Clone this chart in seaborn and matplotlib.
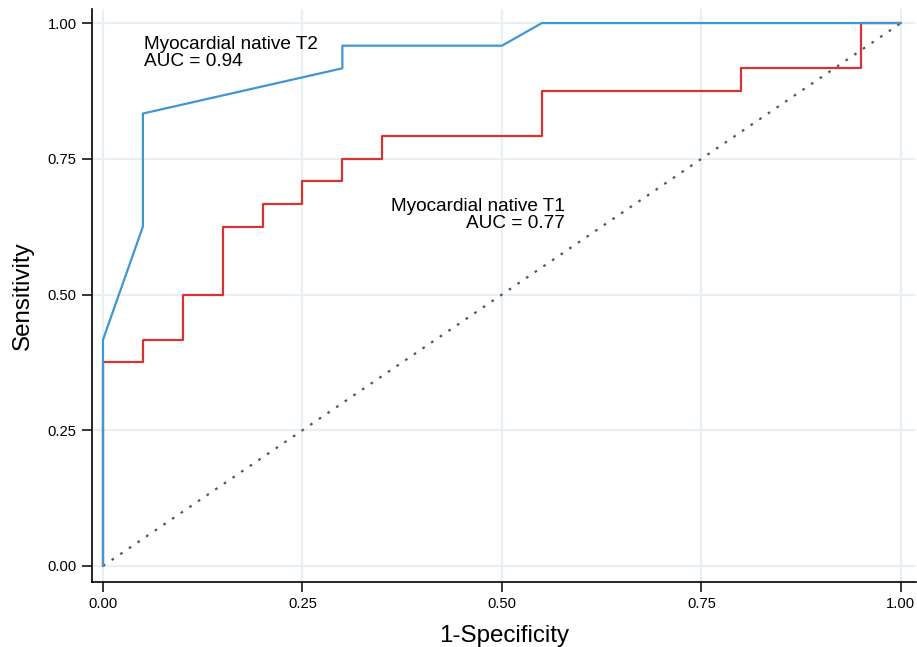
import matplotlib
matplotlib.use("Agg")
import matplotlib.pyplot as plt
import seaborn as sns
import pandas as pd

# ROC coordinates
t2_fpr = [0.0, 0.0, 0.05, 0.05, 0.30, 0.30, 0.50, 0.55, 1.0]
t2_tpr = [0.0, 10/24, 15/24, 20/24, 22/24, 23/24, 23/24, 1.0, 1.0]

t1_fpr = [0.0, 0.0, 0.05, 0.05, 0.10, 0.10, 0.15, 0.15, 0.20, 0.20, 0.25, 0.25,
          0.30, 0.30, 0.35, 0.35, 0.55, 0.55, 0.80, 0.80, 0.95, 0.95, 1.0]
t1_tpr = [0.0, 9/24, 9/24, 10/24, 10/24, 12/24, 12/24, 15/24, 15/24, 16/24, 16/24, 17/24,
          17/24, 18/24, 18/24, 19/24, 19/24, 21/24, 21/24, 22/24, 22/24, 1.0, 1.0]

ref_line = [0.0, 1.0]
ticks = [0.0, 0.25, 0.5, 0.75, 1.0]
tick_labels = ["0.00", "0.25", "0.50", "0.75", "1.00"]

sns.set_style("white")
plt.rcParams['font.family'] = ['Liberation Sans', 'DejaVu Sans']
plt.rcParams['text.color'] = 'black'
plt.rcParams['axes.labelcolor'] = 'black'
plt.rcParams['xtick.color'] = 'black'
plt.rcParams['ytick.color'] = 'black'

fig = plt.figure(figsize=(9.17, 6.47), dpi=100)
ax = fig.add_axes([0.1003, 0.1005, 0.8987, 0.8855])

t2 = pd.DataFrame({'fpr': t2_fpr, 'tpr': t2_tpr})
t1 = pd.DataFrame({'fpr': t1_fpr, 'tpr': t1_tpr})
ref = pd.DataFrame({'fpr': ref_line, 'tpr': ref_line})

sns.lineplot(data=ref, x='fpr', y='tpr', ax=ax, color='#555555', lw=1.6,
             linestyle=(0, (1.2, 3.5)), sort=False, estimator=None, zorder=2)
sns.lineplot(data=t1, x='fpr', y='tpr', ax=ax, color='#d63333', lw=1.6,
             sort=False, estimator=None, zorder=3)
sns.lineplot(data=t2, x='fpr', y='tpr', ax=ax, color='#3f97d0', lw=1.6,
             sort=False, estimator=None, zorder=4)

ax.set_xlim(-0.0138, 1.019)
ax.set_ylim(-0.0295, 1.0258)
ax.set_xticks(ticks)
ax.set_xticklabels(tick_labels)
ax.set_yticks(ticks)
ax.set_yticklabels(tick_labels)
ax.grid(True, color='#e8f0f2', lw=1.6)
ax.set_axisbelow(True)
sns.despine(ax=ax)
for s in ['left', 'bottom']:
    ax.spines[s].set_color('black')
    ax.spines[s].set_linewidth(1.2)
ax.tick_params(axis='both', direction='out', length=7, width=1.1, color='black',
               labelsize=10.6, left=True, bottom=True, pad=4)

ax.set_xlabel('1-Specificity', fontsize=17.4, labelpad=10)
ax.set_ylabel('Sensitivity', fontsize=17.4, labelpad=10)

ax.text(0.052, 0.945, 'Myocardial native T2\nAUC = 0.94', fontsize=13.7,
        ha='left', va='center', linespacing=1.02)
ax.text(0.579, 0.646, 'Myocardial native T1\nAUC = 0.77', fontsize=13.7,
        ha='right', va='center', multialignment='right', linespacing=1.02)

fig.savefig('out.png', dpi=100)
